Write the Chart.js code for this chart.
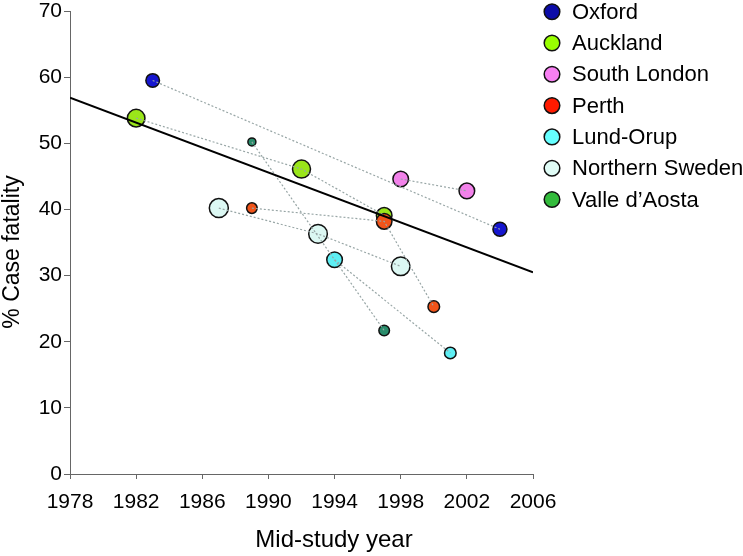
<!DOCTYPE html>
<html><head><meta charset="utf-8">
<script src="https://cdn.jsdelivr.net/npm/chart.js@4/dist/chart.umd.min.js"></script>
<style>html,body{margin:0;padding:0;background:#fff}#wrap{width:743px;height:556px;position:relative}</style>
</head><body><div id="wrap"><canvas id="c"></canvas></div>
<script>
// ---- data ----
const siteNames = ['Oxford', 'Auckland', 'South London', 'Perth', 'Lund-Orup', 'Northern Sweden', 'Valle d\u2019Aosta'];
const oxfordYear = [1983, 2004];
const oxfordCF = [59.5, 37.0];
const aucklandYear = [1982, 1992, 1997];
const aucklandCF = [53.8, 46.1, 39.1];
const southLondonYear = [1998, 2002];
const southLondonCF = [44.6, 42.8];
const perthYear = [1989, 1997, 2000];
const perthCF = [40.2, 38.2, 25.3];
const lundYear = [1994, 2001];
const lundCF = [32.4, 18.3];
const northSwedenYear = [1987, 1993, 1998];
const northSwedenCF = [40.2, 36.3, 31.4];
const valleYear = [1989, 1997];
const valleCF = [50.2, 21.7];
const trendYear = [1978, 2006];
const trendCF = [56.9, 30.5];
const xTickValues = [1978, 1982, 1986, 1990, 1994, 1998, 2002, 2006];
const yTickValues = [0, 10, 20, 30, 40, 50, 60, 70];

// ---- styles ----
const pointColors = ['#1616cf', '#9ae61a', '#f282ea', '#f0541a', '#5eeff4', '#dcf8f3', '#2a8d6c'];
const legendColors = ['#0c0ca8', '#99ff00', '#f77ff2', '#ff1a00', '#66ffff', '#e0fcf6', '#33bb3c'];
const markerRadius = [[6.8, 7.0], [8.8, 9.0, 7.8], [7.8, 7.8], [5.3, 7.8, 5.8], [7.8, 5.8], [9.5, 9.3, 9.3], [4.0, 5.3]];
const FONT = "'Liberation Sans', Arial, sans-serif";

const siteYears = [oxfordYear, aucklandYear, southLondonYear, perthYear, lundYear, northSwedenYear, valleYear];
const siteCF = [oxfordCF, aucklandCF, southLondonCF, perthCF, lundCF, northSwedenCF, valleCF];
const toXY = (xs, ys) => xs.map((x, i) => ({x: x, y: ys[i]}));

const datasets = [];
siteNames.forEach((name, i) => {
  datasets.push({
    type: 'scatter', label: name, data: toXY(siteYears[i], siteCF[i]),
    showLine: false, pointRadius: markerRadius[i], pointHoverRadius: markerRadius[i],
    backgroundColor: pointColors[i], borderColor: '#111', pointBorderWidth: 1.5,
    order: name === 'Perth' ? 0 : 1
  });
});
siteNames.forEach((name, i) => {
  datasets.push({
    type: 'line', label: name + ' link', data: toXY(siteYears[i], siteCF[i]),
    borderColor: '#98a6a6', borderWidth: 1.2, borderDash: [2, 2], pointRadius: 0,
    fill: false, tension: 0, order: -1
  });
});
datasets.push({
  type: 'line', label: 'trend', data: toXY(trendYear, trendCF),
  borderColor: '#000', borderWidth: 2, pointRadius: 0, fill: false, order: -2
});

const overlay = {
  id: 'overlay',
  afterDraw(chart) {
    const ctx = chart.ctx;
    ctx.save();
    // legend
    ctx.font = '22px ' + FONT;
    ctx.textBaseline = 'middle';
    ctx.textAlign = 'left';
    siteNames.forEach((name, i) => {
      const cy = 11.7 + 31.3 * i;
      ctx.beginPath();
      ctx.arc(552, cy, 7.8, 0, Math.PI * 2);
      ctx.fillStyle = legendColors[i];
      ctx.fill();
      ctx.lineWidth = 1.5;
      ctx.strokeStyle = '#111';
      ctx.stroke();
      ctx.fillStyle = '#000';
      ctx.fillText(name, 572, cy + 1);
    });
    // axis titles
    ctx.font = '24px ' + FONT;
    ctx.textAlign = 'center';
    ctx.fillText('Mid-study year', 334, 540);
    ctx.font = '23px ' + FONT;
    ctx.translate(13, 252);
    ctx.rotate(-Math.PI / 2);
    ctx.fillText('% Case fatality', 0, 0);
    ctx.restore();
  }
};

new Chart(document.getElementById('c'), {
  data: {datasets: datasets},
  options: {
    responsive: true, maintainAspectRatio: false, animation: false,
    layout: {padding: {left: 0, right: 210, top: 9, bottom: 0}},
    plugins: {legend: {display: false}, tooltip: {enabled: false}},
    scales: {
      x: {
        type: 'linear', min: 1978, max: 2006,
        afterBuildTicks: s => { s.ticks = xTickValues.map(v => ({value: v})); },
        afterFit: s => { s.height = 82; s.paddingLeft = 0; s.paddingRight = 0; },
        ticks: {color: '#000', font: {family: FONT, size: 21}, padding: 11, callback: v => String(v), maxRotation: 0},
        grid: {drawOnChartArea: false, tickLength: 5, color: '#666'},
        border: {color: '#666', width: 1}
      },
      y: {
        type: 'linear', min: 0, max: 70,
        afterBuildTicks: s => { s.ticks = yTickValues.map(v => ({value: v})); },
        afterFit: s => { s.width = 70; s.paddingTop = 0; s.paddingBottom = 0; },
        ticks: {color: '#000', font: {family: FONT, size: 21}, padding: 2, callback: v => String(v)},
        grid: {drawOnChartArea: false, tickLength: 6, color: '#666'},
        border: {color: '#666', width: 1}
      }
    }
  },
  plugins: [overlay]
});
</script>
</body></html>
